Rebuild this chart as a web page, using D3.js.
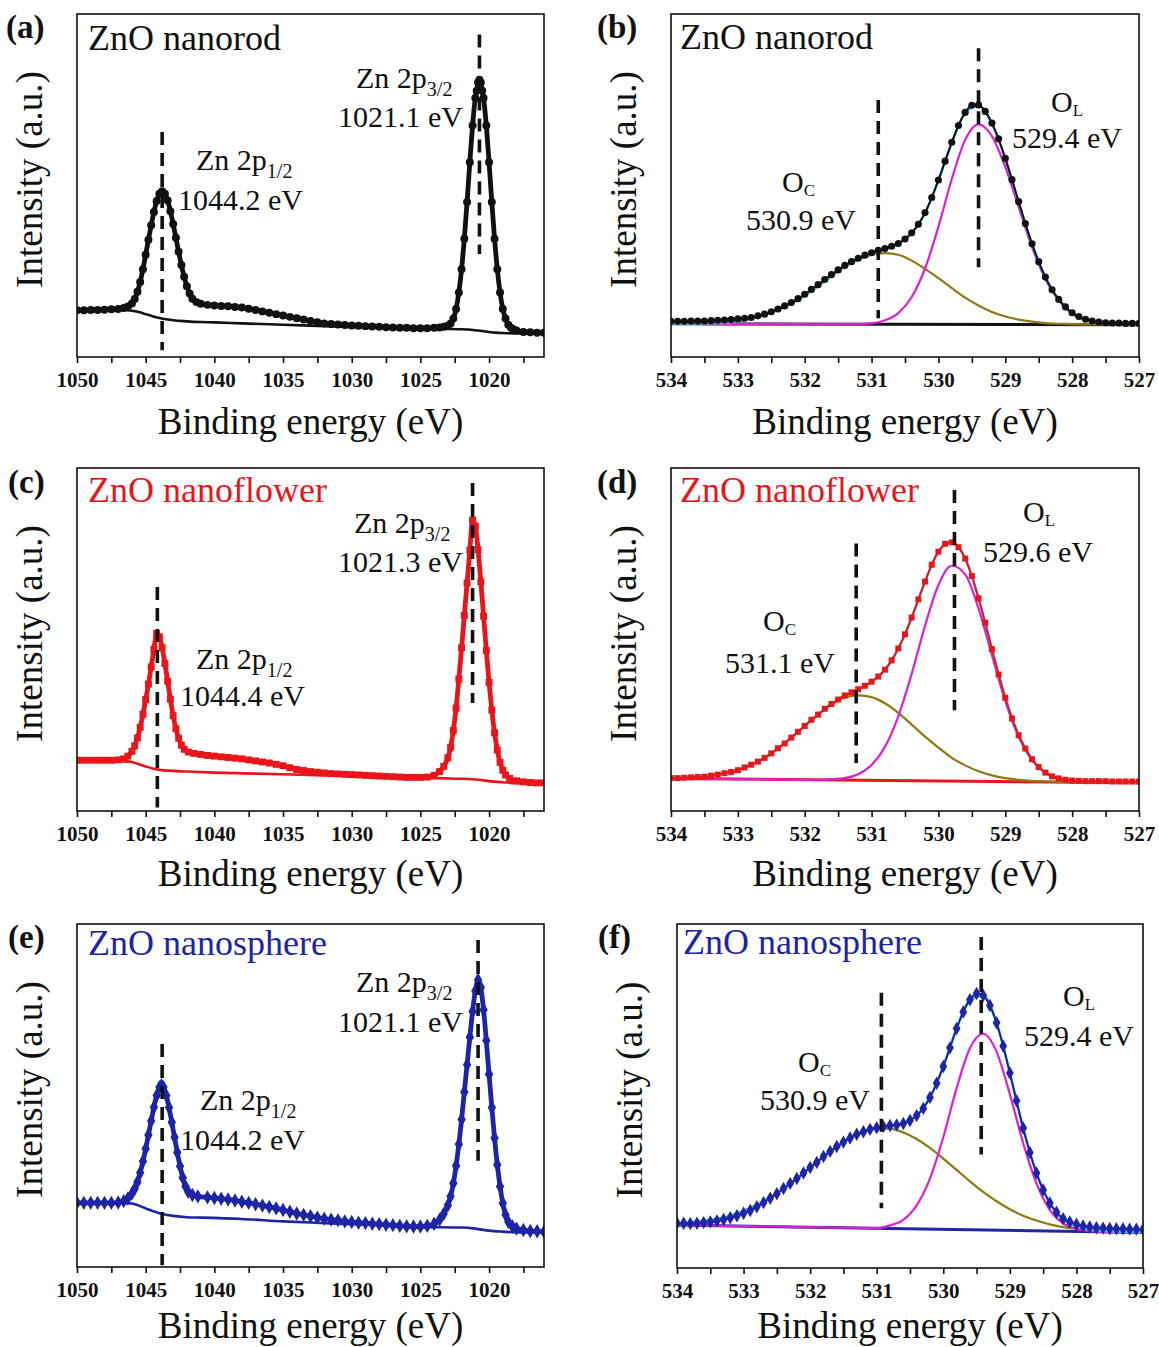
<!DOCTYPE html>
<html><head><meta charset="utf-8">
<script src="https://cdn.jsdelivr.net/npm/d3@7"></script>
<style>
body{margin:0;background:#fff;}
svg text{font-family:"Liberation Serif","Times New Roman",Times,serif;}
</style></head><body>
<svg id="c" width="1159" height="1347"></svg>
<script>
// ---------------- DATA ----------------
// Zn 2p spectra: [binding energy (eV), intensity (a.u.)]
const rodZn = [[1050,13.6],[1049.5,13.6],[1049,13.7],[1048.5,13.7],[1048,13.8],[1047.5,13.9],[1047,14.0],[1046.6,14.3],[1046.3,14.7],[1046,15.6],[1045.8,16.9],[1045.6,19.0],[1045.4,21.9],[1045.2,25.6],[1045,29.8],[1044.8,34.2],[1044.6,38.4],[1044.4,42.3],[1044.2,45.5],[1044,47.6],[1043.8,48.3],[1043.6,47.6],[1043.4,45.6],[1043.2,42.5],[1043,38.8],[1042.8,34.8],[1042.6,30.7],[1042.4,26.8],[1042.2,23.4],[1042,20.6],[1041.8,18.5],[1041.6,17.0],[1041.3,16.0],[1041,15.5],[1040.5,15.2],[1040,15.0],[1039.5,14.9],[1039,14.8],[1038.5,14.6],[1038,14.4],[1037.5,14.1],[1037,13.7],[1036.5,13.3],[1036,12.9],[1035.5,12.5],[1035,12.1],[1034.5,11.7],[1034,11.3],[1033.5,10.9],[1033,10.5],[1032.5,10.1],[1032,9.8],[1031.5,9.6],[1031,9.5],[1030.5,9.3],[1030,9.2],[1029.5,9.1],[1029,9.0],[1028.5,8.9],[1028,8.8],[1027.5,8.7],[1027,8.6],[1026.5,8.5],[1026,8.5],[1025.5,8.4],[1025,8.4],[1024.5,8.4],[1024,8.5],[1023.6,8.6],[1023.3,8.8],[1023,9.1],[1022.8,9.8],[1022.6,11.2],[1022.4,14.0],[1022.2,18.8],[1022,25.6],[1021.8,34.5],[1021.6,45.2],[1021.4,56.8],[1021.2,67.5],[1021,75.5],[1020.9,77.6],[1020.8,80.0],[1020.7,80.8],[1020.6,80.0],[1020.5,77.6],[1020.4,75.5],[1020.2,67.5],[1020,56.8],[1019.8,45.2],[1019.6,34.5],[1019.4,25.6],[1019.2,18.8],[1019,14.0],[1018.8,11.2],[1018.6,9.4],[1018.4,8.5],[1018.2,8.0],[1018,7.7],[1017.5,7.3],[1017,7.2],[1016.5,7.1],[1016,7.1]];
const rodZnBg = [[1050,13.6],[1048,13.7],[1047,13.8],[1046,13.5],[1045.5,13.1],[1045,12.5],[1044.5,11.9],[1044,11.4],[1043.5,11.0],[1043,10.7],[1042,10.4],[1041,10.2],[1040,10.1],[1038,9.8],[1035,9.4],[1032,9.0],[1030,8.7],[1027,8.5],[1025,8.3],[1023,8.2],[1022,8.1],[1021.5,8.0],[1021,7.8],[1020.5,7.6],[1020,7.3],[1019.5,7.1],[1019,7.0],[1018,6.9],[1016,6.9]];

const flowerZn = [[1050,14.8],[1049.5,14.8],[1049,14.8],[1048.5,14.8],[1048,14.8],[1047.5,14.8],[1047,14.9],[1046.6,15.2],[1046.3,16.0],[1046,17.4],[1045.8,19.0],[1045.6,21.3],[1045.4,24.4],[1045.2,28.2],[1045,32.5],[1044.8,37.0],[1044.6,42.0],[1044.4,47.2],[1044.2,51.8],[1044,50.8],[1043.8,47.6],[1043.6,43.0],[1043.4,37.8],[1043.2,32.6],[1043,27.8],[1042.8,24.0],[1042.6,21.2],[1042.4,19.2],[1042.2,18.0],[1041.9,17.2],[1041.5,16.8],[1041,16.5],[1040.5,16.2],[1040,16.0],[1039.5,15.8],[1039,15.6],[1038.5,15.4],[1038,15.2],[1037.5,14.9],[1037,14.6],[1036.5,14.3],[1036,14.0],[1035.5,13.6],[1035,13.2],[1034.5,12.6],[1034,12.1],[1033.5,11.8],[1033,11.5],[1032.5,11.3],[1032,11.1],[1031.5,10.9],[1031,10.8],[1030.5,10.7],[1030,10.6],[1029.5,10.5],[1029,10.4],[1028.5,10.3],[1028,10.2],[1027.5,10.1],[1027,10.0],[1026.5,9.9],[1026,9.8],[1025.5,9.8],[1025,9.8],[1024.5,9.9],[1024,10.4],[1023.6,11.5],[1023.3,13.0],[1023,15.5],[1022.8,18.6],[1022.6,23.5],[1022.4,30.0],[1022.2,38.5],[1022,47.6],[1021.8,57.0],[1021.6,66.5],[1021.4,76.0],[1021.2,84.8],[1021,83.0],[1020.8,76.2],[1020.6,66.8],[1020.4,56.8],[1020.2,46.8],[1020,37.5],[1019.8,29.4],[1019.6,22.8],[1019.4,17.8],[1019.2,14.2],[1019,11.9],[1018.8,10.5],[1018.5,9.5],[1018,8.8],[1017.5,8.5],[1017,8.3],[1016.5,8.2],[1016,8.2]];
const flowerZnBg = [[1050,14.8],[1047,14.6],[1046,14.3],[1045.5,13.6],[1045,13.0],[1044.5,12.4],[1044,12.0],[1043,11.7],[1042,11.5],[1040,11.2],[1037,10.9],[1035,10.7],[1032,10.4],[1030,10.2],[1027,9.9],[1025,9.6],[1023,9.5],[1022,9.4],[1021,9.2],[1020.5,9.0],[1020,8.7],[1019,8.4],[1018,8.1],[1016,7.9]];

const sphereZn = [[1050,18.7],[1049.5,18.7],[1049,18.7],[1048.5,18.7],[1048,18.7],[1047.5,18.7],[1047,18.8],[1046.6,19.2],[1046.3,20.0],[1046,21.4],[1045.8,22.8],[1045.6,24.8],[1045.4,27.5],[1045.2,30.8],[1045,34.5],[1044.8,38.5],[1044.6,42.6],[1044.4,46.6],[1044.2,50.0],[1044,52.4],[1043.85,53.0],[1043.7,52.4],[1043.5,50.0],[1043.3,46.5],[1043.1,42.2],[1042.9,37.8],[1042.7,33.4],[1042.5,29.4],[1042.3,26.0],[1042.1,23.5],[1041.9,21.9],[1041.6,21.0],[1041.2,20.6],[1040.5,20.3],[1040,20.1],[1039.5,19.9],[1039,19.7],[1038.5,19.4],[1038,19.0],[1037.5,18.7],[1037,18.3],[1036.5,17.9],[1036,17.5],[1035.5,17.1],[1035,16.6],[1034.5,16.1],[1034,15.6],[1033.5,15.2],[1033,14.8],[1032.5,14.4],[1032,14.1],[1031.5,13.8],[1031,13.6],[1030.5,13.3],[1030,13.1],[1029.5,12.9],[1029,12.8],[1028.5,12.6],[1028,12.5],[1027.5,12.3],[1027,12.2],[1026.5,12.0],[1026,11.9],[1025.5,11.8],[1025,11.8],[1024.5,12.0],[1024,12.6],[1023.6,13.8],[1023.3,15.5],[1023,18.0],[1022.8,20.6],[1022.6,24.4],[1022.4,29.5],[1022.2,35.8],[1022,43.0],[1021.8,51.0],[1021.6,59.0],[1021.4,67.0],[1021.2,74.5],[1021,80.5],[1020.8,83.7],[1020.6,81.5],[1020.4,75.0],[1020.2,66.0],[1020,56.2],[1019.8,46.5],[1019.6,37.6],[1019.4,29.8],[1019.2,23.5],[1019,18.6],[1018.8,15.2],[1018.6,13.2],[1018.3,11.8],[1018,11.2],[1017.5,10.8],[1017,10.5],[1016.5,10.4],[1016,10.3]];
const sphereZnBg = [[1050,18.7],[1047,18.7],[1046,18.5],[1045.5,17.9],[1045,17.1],[1044.5,16.3],[1044,15.7],[1043,14.9],[1042,14.5],[1041,14.4],[1038,14.0],[1035,13.3],[1032,12.8],[1030,12.5],[1027,12.1],[1025,11.7],[1022,11.5],[1021,11.2],[1020,10.6],[1019,10.3],[1018,10.1],[1016,10.1]];

// O 1s spectra: measured grid and fit grid (eV)
const E_O = [534.0,533.9,533.8,533.7,533.6,533.5,533.4,533.3,533.2,533.1,533.0,532.9,532.8,532.7,532.6,532.5,532.4,532.3,532.2,532.1,532.0,531.9,531.8,531.7,531.6,531.5,531.4,531.3,531.2,531.1,531.0,530.9,530.8,530.7,530.6,530.5,530.4,530.3,530.2,530.1,530.0,529.9,529.8,529.7,529.6,529.5,529.4,529.3,529.2,529.1,529.0,528.9,528.8,528.7,528.6,528.5,528.4,528.3,528.2,528.1,528.0,527.9,527.8,527.7,527.6,527.5,527.4,527.3,527.2,527.1,527.0];
const E_FIT = [534.0,533.8,533.6,533.4,533.2,533.0,532.8,532.6,532.4,532.2,532.0,531.8,531.6,531.4,531.2,531.0,530.8,530.6,530.4,530.2,530.0,529.8,529.6,529.4,529.2,529.0,528.8,528.6,528.4,528.2,528.0,527.8,527.6,527.4,527.2,527.0];

const rodO = [10.4,10.4,10.4,10.5,10.5,10.5,10.6,10.7,10.8,10.9, 11.1,11.3,11.5,12.0,12.5,13.2,14.0,14.9,15.9,17.0, 18.3,19.7,21.1,22.6,24.0,25.4,26.7,27.8,28.8,29.7, 30.4,31.1,31.6,32.3,33.1,34.4,36.2,38.7,42.1,46.5, 51.6,57.1,62.6,67.5,71.3,73.4,73.5,71.6,68.2,63.6, 57.9,51.7,45.3,38.9,33.0,27.8,23.3,19.6,16.8,14.6, 12.9,11.8,11.0,10.5,10.2,10.0,9.9,9.9,9.8,9.8, 9.8];
const rodOL = [9.7,9.7,9.7,9.6,9.6,9.6,9.6,9.6,9.6,9.6,9.6,9.6,9.6,9.6,9.6,9.8,10.7,12.8,17.5,25.8,38.0,51.9,63.3,67.8,64.4,55.4,43.7,32.0,22.7,16.4,12.6,10.8,10.0,9.7,9.5,9.4];
const rodOC = [9.7,9.7,9.8,9.9,10.0,10.4,11.3,12.3,13.8,15.6,17.9,20.7,23.6,26.3,28.4,29.8,30.3,29.8,28.1,25.7,23.0,20.1,17.3,15.0,13.1,11.8,10.9,10.3,9.9,9.7,9.6,9.5,9.5,9.5,9.4,9.4];
const rodOBg = [[534,9.7],[527,9.4]];

const flowerO = [9.6,9.6,9.7,9.8,9.9,10.0,10.3,10.6,11.0,11.4, 11.9,12.7,13.5,14.4,15.5,16.8,18.3,19.7,21.4,23.1, 24.8,26.6,28.1,29.8,31.2,32.5,33.7,34.6,35.5,36.5, 37.7,39.2,41.2,43.9,47.4,51.5,56.4,61.7,66.9,71.8, 75.6,77.9,78.3,76.9,73.6,68.5,62.0,54.9,47.2,39.8, 33.0,27.0,22.1,18.2,15.1,12.8,11.2,10.1,9.5,9.1, 8.9,8.8,8.7,8.7,8.7,8.7,8.6,8.6,8.6,8.6, 8.6];
const flowerOL = [9.5,9.5,9.4,9.4,9.4,9.3,9.3,9.2,9.2,9.1,9.1,9.0,9.3,9.6,10.7,13.4,18.7,27.6,40.0,54.0,65.9,71.5,69.0,59.1,45.4,32.0,21.6,14.8,11.1,9.5,8.7,8.5,8.4,8.3,8.3,8.2];
const flowerOC = [9.6,9.7,9.9,10.3,11.0,11.9,13.5,15.5,18.3,21.4,24.8,28.1,31.0,33.0,33.7,33.2,31.4,28.6,25.2,21.7,18.5,15.5,13.3,11.6,10.4,9.6,9.1,8.8,8.6,8.5,8.4,8.4,8.3,8.3,8.2,8.2];
const flowerOBg = [[534,9.5],[527,8.2]];

const sphereO = [13.0,13.0,12.9,13.0,13.2,13.4,13.7,14.1,14.6,15.2, 15.9,16.7,17.8,19.0,20.3,21.6,23.1,24.6,26.0,27.6, 29.2,30.7,32.4,33.9,35.3,36.6,37.8,38.9,39.6,40.3, 40.8,41.1,41.4,41.6,42.0,42.9,44.3,46.4,49.6,53.7, 58.6,64.0,69.6,74.4,78.0,79.8,79.2,76.3,71.3,64.5, 56.7,48.6,40.7,33.6,27.6,22.7,18.9,16.2,14.3,13.4, 12.7,12.2,11.9,11.7,11.6,11.5,11.4,11.4,11.3,11.3, 11.2];
const sphereOL = [12.5,12.4,12.4,12.3,12.2,12.2,12.1,12.1,12.0,11.9,11.9,11.8,11.7,11.7,11.6,11.6,12.4,14.0,18.2,26.0,38.0,52.3,63.9,68.1,62.9,50.5,36.3,24.6,16.9,13.0,11.4,10.7,10.5,10.4,10.4,10.3];
const sphereOC = [13.0,13.2,13.7,14.3,15.2,16.6,18.3,20.5,23.1,26.0,29.2,32.4,35.3,37.8,39.6,40.6,40.5,39.4,37.5,34.9,31.8,28.5,25.2,22.1,19.4,17.1,15.2,13.8,12.7,11.9,11.4,11.0,10.8,10.6,10.5,10.4];
const sphereOBg = [[534,12.5],[527,10.3]];

// Tick values
const znMajor = [1050,1045,1040,1035,1030,1025,1020];
const znMinor = [1047.5,1042.5,1037.5,1032.5,1027.5,1022.5,1017.5];
const oMajor = [534,533,532,531,530,529,528,527];
const oMinor = [533.5,532.5,531.5,530.5,529.5,528.5,527.5];

// Peak marker lines: energy, top, bottom (a.u.)
const rodZnPeaks = [[1043.8,65.6,2],[1020.7,94,30]];
const flowerZnPeaks = [[1044.15,65.3,1],[1021.2,95.6,31.5]];
const sphereZnPeaks = [[1043.8,65,0.5],[1020.8,95.3,31]];
const rodOPeaks = [[530.9,74.9,11.3],[529.4,90,26.2]];
const flowerOPeaks = [[531.23,78,14],[529.76,93.6,29.4]];
const sphereOPeaks = [[530.93,80,17.4],[529.43,96.2,33]];

// ---------------- DRAWING ----------------
const FONT = '"Liberation Serif","Times New Roman",Times,serif';
const BLACK = '#111111', RED = '#e8151b', BLUE = '#1e24a6';
const MAGENTA = '#dc1fd0', OLIVE = '#8b7b12', CYAN = '#30c6ea';
const svg = d3.select('#c');

const zip = (E, I) => E.map((e, i) => [e, I[i]]);

const panels = [
  {id:'a', x0:77, y0:14, w:467, h:343, dom:[1050,1016], major:znMajor, minor:znMinor, tOff:77,
   data:rodZn, bg:rodZnBg, color:BLACK, sym:d3.symbolCircle, symSize:50, peaks:rodZnPeaks,
   letter:['(a)',6,38], name:['ZnO nanorod',11,36],
   notes:[[279,74,'Zn 2p','3/2'],[261,113,'1021.1 eV'],[119,156,'Zn 2p','1/2'],[101,196,'1044.2 eV']]},
  {id:'b', x0:671, y0:14, w:468, h:343, dom:[534,527], major:oMajor, minor:oMinor, tOff:77,
   data:zip(E_O, rodO), bg:rodOBg, L:rodOL, C:rodOC, color:BLACK, sym:d3.symbolCircle, symSize:40, peaks:rodOPeaks,
   letter:['(b)',597,38], name:['ZnO nanorod',9,35],
   notes:[[111,178,'O','C'],[75,216,'530.9 eV'],[380,98,'O','L'],[341,134,'529.4 eV']]},
  {id:'c', x0:77, y0:468, w:467, h:343, dom:[1050,1016], major:znMajor, minor:znMinor, tOff:75,
   data:flowerZn, bg:flowerZnBg, color:RED, sym:d3.symbolSquare, symSize:48, peaks:flowerZnPeaks,
   letter:['(c)',8,493], name:['ZnO nanoflower',11,34],
   notes:[[277,65,'Zn 2p','3/2'],[261,104,'1021.3 eV'],[119,201,'Zn 2p','1/2'],[103,238,'1044.4 eV']]},
  {id:'d', x0:671, y0:468, w:468, h:343, dom:[534,527], major:oMajor, minor:oMinor, tOff:75,
   data:zip(E_O, flowerO), bg:flowerOBg, L:flowerOL, C:flowerOC, color:RED, sym:d3.symbolSquare, symSize:36, peaks:flowerOPeaks,
   letter:['(d)',597,493], name:['ZnO nanoflower',9,34],
   notes:[[92,163,'O','C'],[54,205,'531.1 eV'],[352,54,'O','L'],[312,94,'529.6 eV']]},
  {id:'e', x0:77, y0:924, w:467, h:343, dom:[1050,1016], major:znMajor, minor:znMinor, tOff:71,
   data:sphereZn, bg:sphereZnBg, color:BLUE, sym:d3.symbolDiamond, symSize:60, peaks:sphereZnPeaks,
   letter:['(e)',8,948], name:['ZnO nanosphere',11,31],
   notes:[[279,68,'Zn 2p','3/2'],[261,108,'1021.1 eV'],[123,186,'Zn 2p','1/2'],[103,226,'1044.2 eV']]},
  {id:'f', x0:677, y0:924, w:466, h:344, dom:[534,527], major:oMajor, minor:oMinor, tOff:70,
   data:zip(E_O, sphereO), bg:sphereOBg, L:sphereOL, C:sphereOC, color:BLUE, sym:d3.symbolDiamond, symSize:52, peaks:sphereOPeaks,
   letter:['(f)',598,948], name:['ZnO nanosphere',6,30],
   notes:[[121,148,'O','C'],[83,186,'530.9 eV'],[386,82,'O','L'],[347,122,'529.4 eV']]}
];

panels.forEach(p => {
  const g = svg.append('g').attr('transform', `translate(${p.x0},${p.y0})`);
  const x = d3.scaleLinear().domain(p.dom).range([0, p.w]);
  const y = d3.scaleLinear().domain([0, 100]).range([p.h, 0]);
  const clipId = 'clip-' + p.id;
  g.append('clipPath').attr('id', clipId).append('rect').attr('width', p.w).attr('height', p.h);
  const plot = g.append('g').attr('clip-path', `url(#${clipId})`);
  const line = d3.line().x(d => x(d[0])).y(d => y(d[1])).curve(d3.curveMonotoneX);
  const isO = !!p.L;

  // background
  plot.append('path').datum(p.bg).attr('d', line).attr('fill', 'none')
    .attr('stroke', p.color).attr('stroke-width', isO ? 3 : 2.6);

  if (isO) {
    const bgS = d3.scaleLinear().domain(p.bg.map(d => d[0])).range(p.bg.map(d => d[1]));
    const Lp = zip(E_FIT, p.L), Cp = zip(E_FIT, p.C);
    const env = E_FIT.map((e, i) => [e, p.L[i] + p.C[i] - bgS(e)]);
    plot.append('path').datum(Cp).attr('d', line).attr('fill', 'none').attr('stroke', OLIVE).attr('stroke-width', 2.2);
    plot.append('path').datum(Lp).attr('d', line).attr('fill', 'none').attr('stroke', MAGENTA).attr('stroke-width', 2.2);
    plot.append('path').datum(env).attr('d', line).attr('fill', 'none').attr('stroke', CYAN).attr('stroke-width', 2.4);
  }

  // measured data
  plot.append('path').datum(p.data).attr('d', line).attr('fill', 'none')
    .attr('stroke', p.color).attr('stroke-width', isO ? 2 : 4.8);
  const sym = d3.symbol().type(p.sym).size(p.symSize);
  plot.selectAll('path.m').data(p.data).join('path').attr('class', 'm')
    .attr('d', sym)
    .attr('transform', d => `translate(${x(d[0])},${y(d[1])})`)
    .attr('fill', p.color);

  // dashed peak lines
  plot.selectAll('line.pk').data(p.peaks).join('line').attr('class', 'pk')
    .attr('x1', d => x(d[0])).attr('x2', d => x(d[0]))
    .attr('y1', d => y(d[1])).attr('y2', d => y(d[2]))
    .attr('stroke', BLACK).attr('stroke-width', 3.6).attr('stroke-dasharray', '13,8');

  // annotations
  p.notes.forEach(n => {
    const t = g.append('text').attr('x', n[0]).attr('y', n[1]).attr('font-size', 30).attr('fill', BLACK);
    t.append('tspan').text(n[2]);
    if (n[3]) {
      const isOx = n[2] === 'O';
      t.append('tspan').attr('dy', isOx ? 4 : 8).attr('font-size', isOx ? 17 : 20).text(n[3]);
    }
  });

  // sample name
  g.append('text').attr('x', p.name[1]).attr('y', p.name[2]).attr('font-size', 36)
    .attr('fill', p.color).text(p.name[0]);

  // frame
  g.append('rect').attr('width', p.w).attr('height', p.h).attr('fill', 'none')
    .attr('stroke', BLACK).attr('stroke-width', 1.6);

  // x axis
  const ax = g.append('g').attr('transform', `translate(0,${p.h})`)
    .call(d3.axisBottom(x).tickValues(p.major).tickSize(6).tickSizeOuter(0).tickFormat(d3.format('d')));
  ax.select('.domain').remove();
  ax.selectAll('line').attr('stroke', BLACK).attr('stroke-width', 1.6);
  ax.selectAll('text').attr('y', 15).attr('font-family', FONT).attr('font-weight', 'bold')
    .attr('font-size', 21).attr('fill', BLACK);
  const axm = g.append('g').attr('transform', `translate(0,${p.h})`)
    .call(d3.axisBottom(x).tickValues(p.minor).tickSize(6).tickSizeOuter(0).tickFormat(''));
  axm.select('.domain').remove();
  axm.selectAll('line').attr('stroke', BLACK).attr('stroke-width', 1.6);

  // axis titles
  g.append('text').attr('x', p.w / 2).attr('y', p.h + p.tOff).attr('text-anchor', 'middle')
    .attr('font-size', 37).attr('fill', BLACK).text('Binding energy (eV)');
  g.append('text').attr('transform', `translate(-35,${p.h / 2 - 6}) rotate(-90)`)
    .attr('text-anchor', 'middle').attr('font-size', 37).attr('fill', BLACK).text('Intensity (a.u.)');

  // panel letter
  svg.append('text').attr('x', p.letter[1]).attr('y', p.letter[2]).attr('font-size', 33)
    .attr('font-weight', 'bold').attr('fill', BLACK).text(p.letter[0]);
});
</script></body></html>
